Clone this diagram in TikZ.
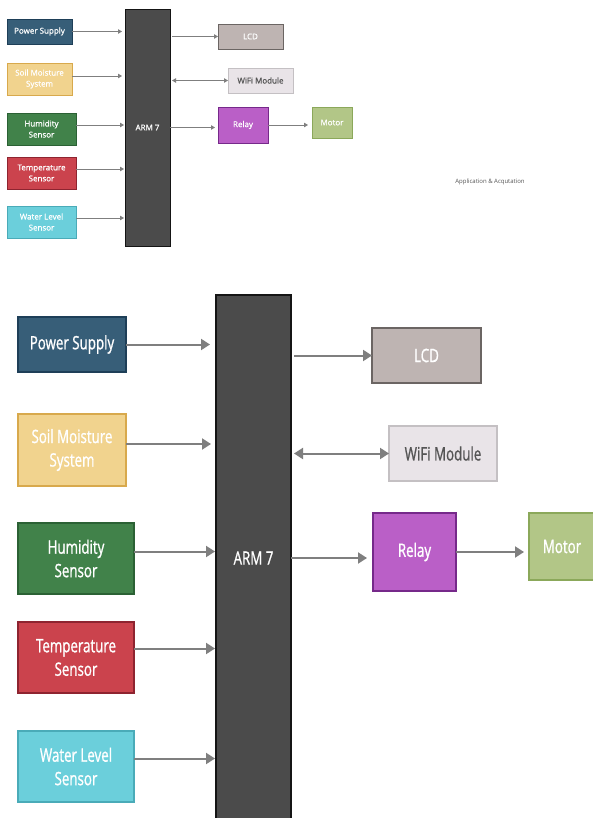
\documentclass[tikz,border=0pt]{standalone}
\usepackage{fontspec}
\setmainfont{Open Sans}[FakeBold=0.8]
\newfontfamily\bigfont{Open Sans}[FakeStretch=0.72,FakeBold=1.0]
\newfontfamily\capfont{Open Sans}
\usetikzlibrary{arrows.meta}
\definecolor{pwF}{HTML}{375E78}\definecolor{pwD}{HTML}{1E3F58}
\definecolor{soF}{HTML}{F1D38E}\definecolor{soD}{HTML}{D8A94C}
\definecolor{huF}{HTML}{41824A}\definecolor{huD}{HTML}{2B6134}
\definecolor{teF}{HTML}{CB434D}\definecolor{teD}{HTML}{8E2430}
\definecolor{waF}{HTML}{6BCFDB}\definecolor{waD}{HTML}{4AABB8}
\definecolor{arF}{HTML}{4B4B4B}\definecolor{arD}{HTML}{151515}
\definecolor{lcF}{HTML}{BEB4B2}\definecolor{lcD}{HTML}{6B6563}
\definecolor{wiF}{HTML}{E9E4E8}\definecolor{wiD}{HTML}{C4C0C3}\definecolor{wiT}{HTML}{555555}
\definecolor{reF}{HTML}{BA5FC7}\definecolor{reD}{HTML}{76298A}
\definecolor{moF}{HTML}{B2C687}\definecolor{moD}{HTML}{8BA85A}
\definecolor{arrgray}{HTML}{7F7F7F}
\definecolor{capgray}{HTML}{555555}
\tikzset{
  box/.style={rectangle, inner sep=0pt, outer sep=0pt, anchor=north west, align=center, text=white},
  sbox/.style={box, line width=0.8pt, font=\fontsize{8}{11}\selectfont},
  bbox/.style={box, line width=1.6pt, font=\bigfont\fontsize{18.5}{23.5}\selectfont},
  colPw/.style={fill=pwF, draw=pwD},
  colSo/.style={fill=soF, draw=soD},
  colHu/.style={fill=huF, draw=huD},
  colTe/.style={fill=teF, draw=teD},
  colWa/.style={fill=waF, draw=waD},
  colAr/.style={fill=arF, draw=arD},
  colLc/.style={fill=lcF, draw=lcD},
  colWi/.style={fill=wiF, draw=wiD, text=wiT},
  colRe/.style={fill=reF, draw=reD},
  colMo/.style={fill=moF, draw=moD},
  sarr/.style={draw=arrgray, line width=0.9pt, -{Triangle[length=4pt,width=4.5pt]}},
  sdarr/.style={draw=arrgray, line width=0.9pt, {Triangle[length=4pt,width=4.5pt]}-{Triangle[length=4pt,width=4.5pt]}},
  barr/.style={draw=arrgray, line width=2pt, -{Triangle[length=9pt,width=11pt]}},
  bdarr/.style={draw=arrgray, line width=2pt, {Triangle[length=9pt,width=11pt]}-{Triangle[length=9pt,width=11pt]}},
}
\begin{document}
\begin{tikzpicture}[x=1pt,y=-1pt]
\useasboundingbox (0,0) rectangle (593,818);
\clip (0,0) rectangle (593,818);
\fill[white] (0,0) rectangle (593,818);
% ---------- small diagram ----------
\node[sbox, colPw, minimum width=65pt, minimum height=25pt] (sPS) at (7,19) {Power Supply};
\node[sbox, colSo, minimum width=65pt, minimum height=32pt] (sSo) at (7,63) {Soil Moisture\\System};
\node[sbox, colHu, minimum width=69pt, minimum height=32pt] (sHu) at (7,113) {Humidity\\Sensor};
\node[sbox, colTe, minimum width=69pt, minimum height=32pt] (sTe) at (7,157) {Temperature\\Sensor};
\node[sbox, colWa, minimum width=69pt, minimum height=32pt] (sWa) at (7,206) {Water Level\\Sensor};
\node[sbox, colAr, minimum width=45pt, minimum height=237pt] (sAr) at (125,9) {ARM 7};
\node[sbox, colLc, minimum width=65pt, minimum height=25pt] (sLc) at (218,24) {LCD};
\node[sbox, colWi, minimum width=65pt, minimum height=25pt] (sWi) at (228,68) {WiFi Module};
\node[sbox, colRe, minimum width=50pt, minimum height=36pt] (sRe) at (218,107) {Relay};
\node[sbox, colMo, minimum width=40pt, minimum height=31pt] (sMo) at (312,107) {Motor};
\node[text=capgray, font=\capfont\fontsize{6}{7}\selectfont] (cap) at (490,182) {Application \& Acqutation};

\draw[sarr] (sPS.east) -- ([xshift=-3pt]sPS.east -| sAr.west);
\draw[sarr] ([yshift=3pt]sSo.east) -- ([xshift=-3pt,yshift=3pt]sSo.east -| sAr.west);
\draw[sarr] ([yshift=4pt]sHu.east) -- ([xshift=-1pt,yshift=4pt]sHu.east -| sAr.west);
\draw[sarr] ([yshift=4pt]sTe.east) -- ([xshift=-1pt,yshift=4pt]sTe.east -| sAr.west);
\draw[sarr] ([yshift=4pt]sWa.east) -- ([xshift=-1pt,yshift=4pt]sWa.east -| sAr.west);
\draw[sarr] ([xshift=2pt]sAr.east |- sLc.west) -- (sLc.west);
\draw[sdarr] ([xshift=2pt]sAr.east |- sWi.west) -- (sWi.west);
\draw[sarr] (sAr.east) -- ([xshift=-3pt]sAr.east -| sRe.west);
\draw[sarr] (sRe.east) -- ([xshift=-4pt]sRe.east -| sMo.west);

% ---------- large diagram ----------
\node[bbox, colPw, minimum width=108pt, minimum height=55pt] (PS) at (18,317) {Power Supply};
\node[bbox, colSo, minimum width=108pt, minimum height=72pt] (So) at (18,414) {Soil Moisture\\System};
\node[bbox, colHu, minimum width=116pt, minimum height=71pt] (Hu) at (18,523) {Humidity\\Sensor};
\node[bbox, colTe, minimum width=116pt, minimum height=71pt] (Te) at (18,622) {Temperature\\Sensor};
\node[bbox, colWa, minimum width=116pt, minimum height=71pt] (Wa) at (18,731) {Water Level\\Sensor};
\node[bbox, colAr, minimum width=75pt, minimum height=526pt] (Ar) at (216,295) {ARM 7};
\node[bbox, colLc, minimum width=109pt, minimum height=55pt] (Lc) at (372,328) {LCD};
\node[bbox, colWi, minimum width=108pt, minimum height=55pt] (Wi) at (389,426) {WiFi Module};
\node[bbox, colRe, minimum width=83pt, minimum height=78pt] (Re) at (373,513) {Relay};
\node[bbox, colMo, minimum width=66pt, minimum height=67pt] (Mo) at (529,513) {Motor};

\draw[barr] (PS.east) -- ([xshift=-6pt]PS.east -| Ar.west);
\draw[barr] ([yshift=6pt]So.east) -- ([xshift=-5pt,yshift=6pt]So.east -| Ar.west);
\draw[barr] ([yshift=7pt]Hu.east) -- ([xshift=-1pt,yshift=7pt]Hu.east -| Ar.west);
\draw[barr] ([yshift=9pt]Te.east) -- ([xshift=-1pt,yshift=9pt]Te.east -| Ar.west);
\draw[barr] ([yshift=8pt]Wa.east) -- ([xshift=-1pt,yshift=8pt]Wa.east -| Ar.west);
\draw[barr] ([xshift=3pt]Ar.east |- Lc.west) -- (Lc.west);
\draw[bdarr] ([xshift=3pt]Ar.east |- Wi.west) -- (Wi.west);
\draw[barr] (Ar.east) -- ([xshift=-6pt]Ar.east -| Re.west);
\draw[barr] (Re.east) -- ([xshift=-5pt]Re.east -| Mo.west);
\end{tikzpicture}
\end{document}
